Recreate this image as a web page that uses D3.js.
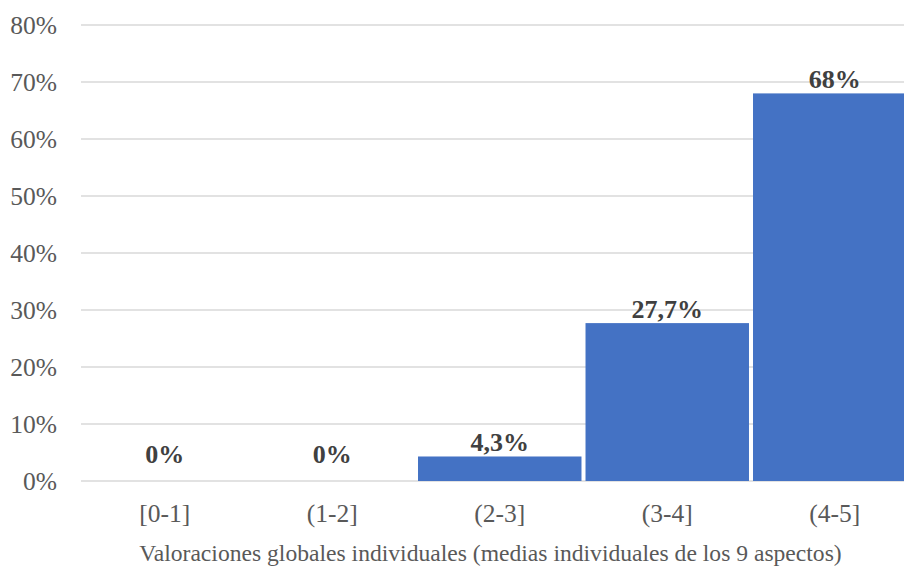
<!DOCTYPE html>
<html>
<head>
<meta charset="utf-8">
<script src="https://cdn.jsdelivr.net/npm/d3@7"></script>
<style>
  html, body { margin: 0; padding: 0; background: #fff; overflow: hidden; }
  svg { display: block; font-family: "Liberation Serif", "Times New Roman", serif; }
</style>
</head>
<body>
<svg id="chart" width="904" height="569"></svg>
<script>
// Distribution of individual global ratings
const categories = ["[0-1]", "(1-2]", "(2-3]", "(3-4]", "(4-5]"];
const values = [0, 0, 4.3, 27.7, 68];
const valueLabels = ["0%", "0%", "4,3%", "27,7%", "68%"];
const yTicks = [0, 10, 20, 30, 40, 50, 60, 70, 80];
const axisTitle = "Valoraciones globales individuales (medias individuales de los 9 aspectos)";

const svg = d3.select("#chart");
const plot = { left: 81, right: 918.5, top: 25, bottom: 481 };

const x = d3.scaleBand()
  .domain(categories)
  .range([plot.left, plot.right])
  .paddingInner(0.024)
  .paddingOuter(0.012);

const y = d3.scaleLinear()
  .domain([0, 80])
  .range([plot.bottom, plot.top]);

// horizontal gridlines
svg.append("g")
  .selectAll("line")
  .data(yTicks)
  .join("line")
  .attr("x1", plot.left)
  .attr("x2", plot.right)
  .attr("y1", d => y(d))
  .attr("y2", d => y(d))
  .attr("stroke", "#d9d9d9")
  .attr("stroke-width", 1.5);

// y axis tick labels
svg.append("g")
  .selectAll("text")
  .data(yTicks)
  .join("text")
  .attr("x", 57)
  .attr("y", d => y(d) + 8.5)
  .attr("text-anchor", "end")
  .attr("font-size", 25.5)
  .attr("fill", "#595959")
  .text(d => d + "%");

// bars
svg.append("g")
  .selectAll("rect")
  .data(values)
  .join("rect")
  .attr("x", (d, i) => x(categories[i]))
  .attr("width", x.bandwidth())
  .attr("y", d => y(d))
  .attr("height", d => y(0) - y(d))
  .attr("fill", "#4472c4");

// value labels above bars
svg.append("g")
  .selectAll("text")
  .data(values)
  .join("text")
  .attr("x", (d, i) => x(categories[i]) + x.bandwidth() / 2)
  .attr("y", d => Math.min(y(d) - 5, y(0) - 18))
  .attr("text-anchor", "middle")
  .attr("font-size", 26)
  .attr("font-weight", "bold")
  .attr("fill", "#404040")
  .text((d, i) => valueLabels[i]);

// category labels
svg.append("g")
  .selectAll("text")
  .data(categories)
  .join("text")
  .attr("x", d => x(d) + x.bandwidth() / 2)
  .attr("y", 522)
  .attr("text-anchor", "middle")
  .attr("font-size", 25.5)
  .attr("fill", "#595959")
  .text(d => d);

// axis title
svg.append("text")
  .attr("x", 490.5)
  .attr("y", 561)
  .attr("text-anchor", "middle")
  .attr("font-size", 23.6)
  .attr("fill", "#595959")
  .text(axisTitle);
</script>
</body>
</html>
